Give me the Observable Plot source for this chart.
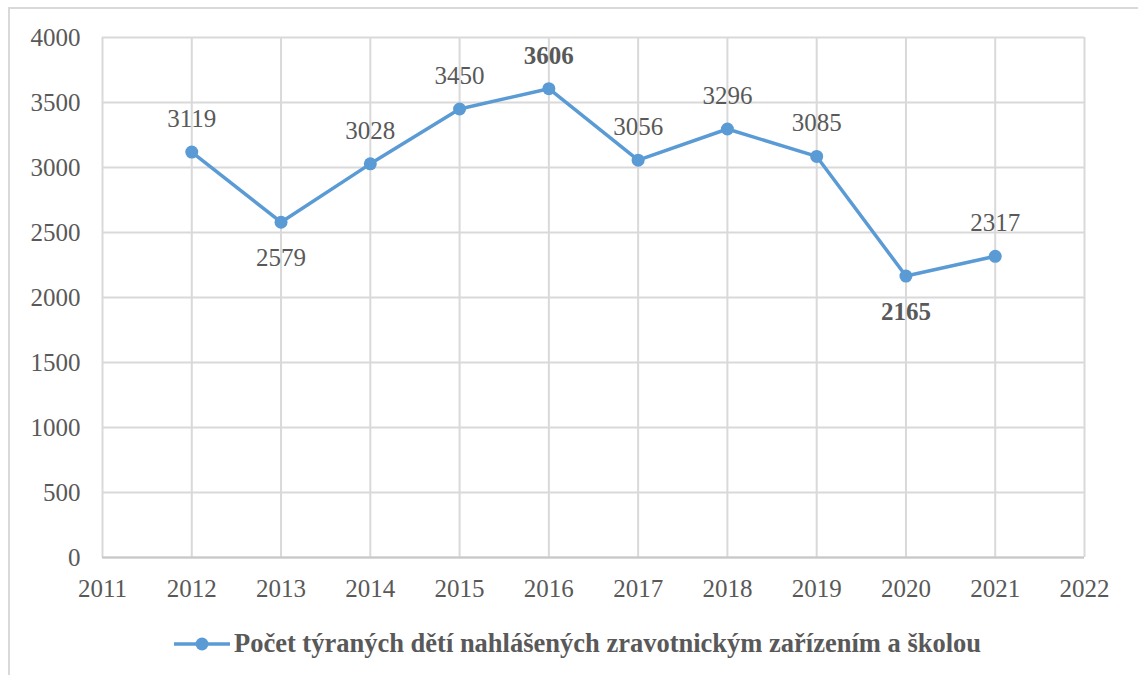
<!DOCTYPE html>
<html>
<head>
<meta charset="utf-8">
<script src="https://cdn.jsdelivr.net/npm/d3@7"></script>
<script src="https://cdn.jsdelivr.net/npm/@observablehq/plot@0.6"></script>
<style>
  html, body { margin: 0; padding: 0; background: #fff; }
  #wrap { position: relative; width: 1138px; height: 675px; overflow: hidden; font-family: 'Liberation Serif', serif; }
  #frame { position: absolute; left: 8px; top: 7px; width: 1200px; height: 700px; border: 2px solid #d9d9d9; box-sizing: border-box; }
  #chart { position: absolute; left: 0; top: 0; }
  #chart svg text { font-family: 'Liberation Serif', serif; }
  #legend { position: absolute; left: 0; width: 1138px; box-sizing: border-box; padding-left: 16px; top: 628px; display: flex; justify-content: center; align-items: center; color: #595959; font-weight: bold; font-size: 26.5px; font-family: 'Liberation Serif', serif; }
  #legend svg { margin-right: 3px; }
</style>
</head>
<body>
<div id="wrap">
  <div id="frame"></div>
  <div id="chart"></div>
  <div id="legend"></div>
</div>
<script>
const years = [2012, 2013, 2014, 2015, 2016, 2017, 2018, 2019, 2020, 2021];
const counts = [3119, 2579, 3028, 3450, 3606, 3056, 3296, 3085, 2165, 2317];
const xTicks = [2011, 2012, 2013, 2014, 2015, 2016, 2017, 2018, 2019, 2020, 2021, 2022];
const yTicks = [0, 500, 1000, 1500, 2000, 2500, 3000, 3500, 4000];
const labelsBelowYears = [2013, 2020];
const seriesName = "Počet týraných dětí nahlášených zravotnickým zařízením a školou";

const lineColor = "#5B9BD5";
const textColor = "#595959";
const gridColor = "#d9d9d9";
const font = "'Liberation Serif', serif";

const maxV = d3.max(counts), minV = d3.min(counts);
const data = years.map((y, i) => ({
  year: y,
  value: counts[i],
  below: labelsBelowYears.includes(y),
  bold: counts[i] === maxV || counts[i] === minV
}));

const labelOpts = (extra) => Object.assign({ x: "year", y: "value", text: d => String(d.value), fill: textColor, fontFamily: font, fontSize: 25 }, extra);

const chart = Plot.plot({
  width: 1138,
  height: 675,
  marginLeft: 102,
  marginRight: 54,
  marginTop: 37,
  marginBottom: 118,
  style: "font-family: 'Liberation Serif', serif; font-size: 25px; color: #595959; background: transparent;",
  x: { domain: [2011, 2022], ticks: xTicks, tickFormat: d3.format("d"), tickSize: 0, tickPadding: 22, label: null },
  y: { domain: [0, 4000], ticks: yTicks, tickFormat: d3.format("d"), tickSize: 0, tickPadding: 22, label: null },
  marks: [
    Plot.ruleX(xTicks, { stroke: gridColor, strokeWidth: 2 }),
    Plot.ruleY(yTicks, { stroke: gridColor, strokeWidth: 2 }),
    Plot.ruleY([0], { stroke: "#c8c8c8", strokeWidth: 2 }),
    Plot.line(data, { x: "year", y: "value", stroke: lineColor, strokeWidth: 3.5 }),
    Plot.dot(data, { x: "year", y: "value", fill: lineColor, r: 6.5 }),
    Plot.text(data.filter(d => !d.below && !d.bold), labelOpts({ dy: -33 })),
    Plot.text(data.filter(d => !d.below && d.bold), labelOpts({ dy: -33, fontWeight: "bold" })),
    Plot.text(data.filter(d => d.below && !d.bold), labelOpts({ dy: 36 })),
    Plot.text(data.filter(d => d.below && d.bold), labelOpts({ dy: 36, fontWeight: "bold" }))
  ]
});
document.getElementById("chart").appendChild(chart);

const legend = document.getElementById("legend");
legend.innerHTML = `<svg width="58" height="20"><line x1="1" y1="10" x2="57" y2="10" stroke="${lineColor}" stroke-width="3.5"/><circle cx="29" cy="10" r="6.5" fill="${lineColor}"/></svg><span>${seriesName}</span>`;
</script>
</body>
</html>
